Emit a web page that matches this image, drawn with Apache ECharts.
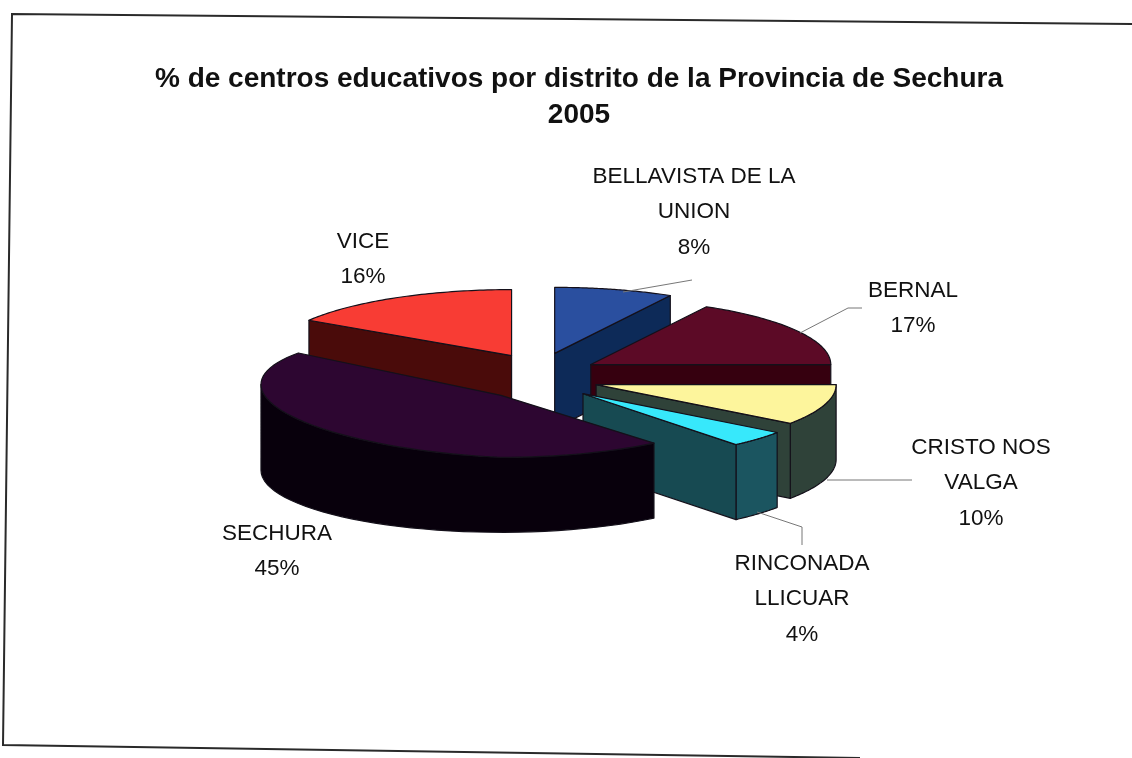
<!DOCTYPE html>
<html><head><meta charset="utf-8">
<style>html,body{margin:0;padding:0;background:#fff}#c{width:1132px;height:758px}</style>
<script src="https://cdn.jsdelivr.net/npm/echarts@6/dist/echarts.min.js"></script>
</head><body><div id="c"></div>
<script>
// ---- data ----
var categories = ['BELLAVISTA DE LA\nUNION','BERNAL','CRISTO NOS\nVALGA','RINCONADA\nLLICUAR','SECHURA','VICE'];
var percents = [8,17,10,4,45,16];
var titleLines = '% de centros educativos por distrito de la Provincia de Sechura\n2005';

// ---- styles / layout ----
var topColors  = ['#2a4f9f','#5c0a26','#fdf59c','#37e8fb','#2d0631','#f83c34'];
var sideColors = ['#0d2a58','#36000f','#2f4239','#174a52','#08000c','#4a0b0a'];
var wallColors = ['#0d2a58','#36000f','#2f4239','#1b5560','#08000c','#4a0b0a'];
var paintOrder = [5,0,1,2,3,4];
var pie = {cx:540, cy:377, rx:240, ry:66, depth:75, explodeX:59, explodeY:24.4};
// perspective adjustment of the big near slice
var sliceRy = [66,66,66,66,62,66];
var sliceLeftTilt = [0,0,0,0,0.045,0];
var labelAt = [[694,175],[913,289],[981,446],[802,562],[277,532],[363,240]];
var leaders = [
  [[623,292],[692,280]],
  [[800,333],[848,308],[862,308]],
  [[827,480],[912,480]],
  [[757,512],[802,527],[802,545]]
];
var frame = [[1132,24],[12,14],[3,745],[200,748],[860,758]];

var starts = [], acc = 0;
percents.forEach(function(p){ starts.push(acc); acc += p; });
var total = acc;

function renderSlice(params, api){
  var i = api.value(0);
  var a0 = starts[i]/total*360*Math.PI/180;
  var a1 = (starts[i]+percents[i])/total*360*Math.PI/180;
  var mid = (a0+a1)/2;
  var ax = pie.cx + Math.sin(mid)*pie.explodeX;
  var ay = pie.cy - Math.cos(mid)*pie.explodeY;
  var ry = sliceRy[i], tilt = sliceLeftTilt[i];
  function rim(a, lower){
    var dx = Math.sin(a)*pie.rx;
    var y = ay-Math.cos(a)*ry;
    if (lower) y += pie.depth;
    else if (dx < 0) y += tilt*dx;
    return [ax+dx, y];
  }
  var stroke = {stroke:'#14101a', lineWidth:1.2, lineJoin:'round'};
  function face(pts, fill){
    return {type:'polygon', shape:{points:pts},
      style:Object.assign({fill:fill}, stroke)};
  }
  function cut(a){
    var r = rim(a), b = rim(a,true);
    return face([[ax,ay],r,b,[ax,ay+pie.depth]], sideColors[i]);
  }
  var children = [];
  // outer wall: the part of the rim on the viewer's side
  var w0 = Math.max(a0, Math.PI/2), w1 = Math.min(a1, 3*Math.PI/2);
  if (w1 > w0){
    var up = [], down = [], n = 40, k;
    for (k=0;k<=n;k++){
      var a = w0+(w1-w0)*k/n;
      up.push(rim(a)); down.unshift(rim(a,true));
    }
    children.push(face(up.concat(down), wallColors[i]));
  }
  if (Math.sin(a0) < -1e-6) children.push(cut(a0));
  if (Math.sin(a1) > 1e-6) children.push(cut(a1));
  var pts = [[ax,ay]], m = 60, j;
  for (j=0;j<=m;j++) pts.push(rim(a0+(a1-a0)*j/m));
  children.push(face(pts, topColors[i]));
  return {type:'group', children:children};
}

var font = '"Liberation Sans", Arial, sans-serif';
var graphics = [];
graphics.push({type:'polyline', silent:true, z:1, shape:{points:frame},
  style:{stroke:'#2a2a2a', lineWidth:2, fill:null}});
graphics.push({type:'text', silent:true, z:5, x:579, y:97,
  style:{text:titleLines, font:'bold 28px '+font, fill:'#111', align:'center', verticalAlign:'middle', lineHeight:36}});
leaders.forEach(function(l){
  graphics.push({type:'polyline', silent:true, z:5, shape:{points:l},
    style:{stroke:'#777', lineWidth:1, fill:null}});
});
categories.forEach(function(name,i){
  graphics.push({type:'text', silent:true, z:5, x:labelAt[i][0], y:labelAt[i][1]-16,
    style:{text:name+'\n'+percents[i]+'%', font:'22.5px '+font, fill:'#111', align:'center', verticalAlign:'top', lineHeight:35.5}});
});

var chart = echarts.init(document.getElementById('c'), null, {renderer:'canvas'});
chart.setOption({
  animation:false,
  backgroundColor:'#fff',
  graphic:graphics,
  series:[{
    type:'custom', coordinateSystem:'none', silent:true,
    renderItem:renderSlice,
    data:paintOrder.map(function(i){ return [i, percents[i]]; })
  }]
});
</script></body></html>
